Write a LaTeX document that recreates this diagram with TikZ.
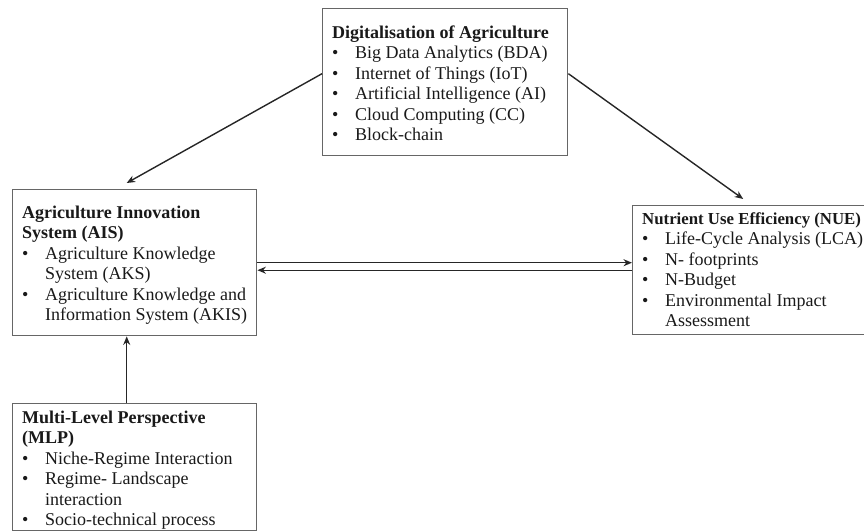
\documentclass[tikz,border=0pt]{standalone}
\usepackage{fontspec}
\setmainfont{Liberation Serif}
\usetikzlibrary{arrows.meta}

\newcommand{\itm}[1]{\par\noindent\hangindent=23pt\hangafter=1\makebox[23pt][l]{\textbullet}#1}
\newcommand{\hd}[1]{\strut\textbf{#1}}
\newcommand{\panelbody}[4]{\begin{minipage}[t][#1][t]{#2}\fontsize{18}{20.5}\selectfont\rightskip=0pt plus 1fil\vspace*{#3}#4\end{minipage}}

\begin{document}
\begin{tikzpicture}[
    x=1pt, y=-1pt,
    panel/.style={draw=black!60, line width=1.4pt, anchor=north west, inner xsep=9.5pt, inner ysep=0pt, text=black!90},
    link/.style={draw=black!85, line width=1.4pt, -{Stealth[length=8.5pt,width=7pt]}},
    ]
    \useasboundingbox (0,0) rectangle (864,531);
    \clip (0,0) rectangle (864,531);
    % boxes
    \node [panel] (dig) at (322,8) {\panelbody{147pt}{226pt}{15pt}{%
      \hd{Digitalisation of Agriculture}
      \itm{Big Data Analytics (BDA)}
      \itm{Internet of Things (IoT)}
      \itm{Artificial Intelligence (AI)}
      \itm{Cloud Computing (CC)}
      \itm{Block-chain}}};
    \node [panel] (ais) at (12,189) {\panelbody{146pt}{225pt}{14pt}{%
      \hd{Agriculture Innovation\\System (AIS)}
      \itm{Agriculture Knowledge\\System (AKS)}
      \itm{Agriculture Knowledge and\\Information System (AKIS)}}};
    \node [panel] (nue) at (632,205) {\panelbody{129pt}{226pt}{4pt}{%
      \hd{\mbox{\fontsize{16.8}{20.5}\selectfont Nutrient Use Efficiency (NUE)}}
      \itm{Life-Cycle Analysis (LCA)}
      \itm{N- footprints}
      \itm{N-Budget}
      \itm{Environmental Impact\\Assessment}}};
    \node [panel] (mlp) at (12,403) {\panelbody{127pt}{225pt}{5pt}{%
      \hd{Multi-Level Perspective\\(MLP)}
      \itm{Niche-Regime Interaction}
      \itm{Regime- Landscape\\interaction}
      \itm{Socio-technical process}}};
    % arrows
    \draw [link] ([yshift=8.5pt]dig.west) -- ([xshift=-8pt,yshift=6pt]ais.north);
    \draw [link] ([yshift=8.5pt]dig.east) -- ([xshift=-12pt,yshift=6pt]nue.north);
    \draw [link] (ais.east) -- (ais.east -| nue.west);
    \draw [link] (nue.west) -- (nue.west -| ais.east);
    \draw [link] ([xshift=-8pt]mlp.north) -- ([xshift=-8pt]ais.south);
\end{tikzpicture}
\end{document}
